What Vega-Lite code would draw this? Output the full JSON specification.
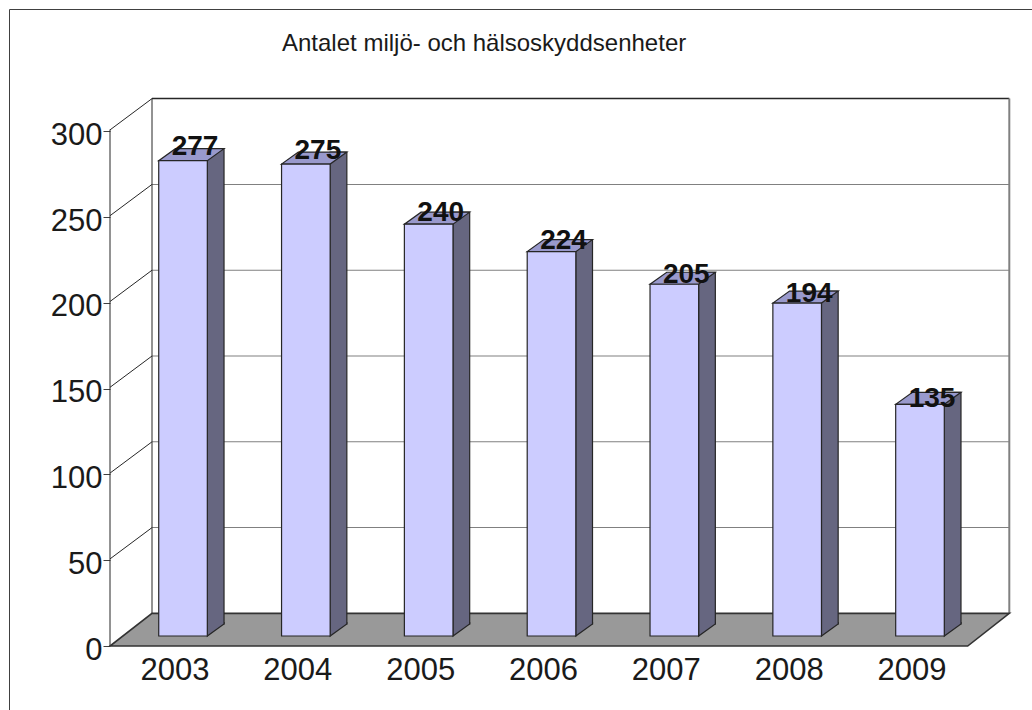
{
  "$schema": "https://vega.github.io/schema/vega-lite/v6.json",
  "width": 1023,
  "height": 701,
  "autosize": {"type": "none"},
  "padding": {"left": 9, "top": 9, "right": 0, "bottom": 0},
  "background": "white",
  "config": {
    "view": {"stroke": "#404040", "strokeWidth": 1},
    "font": "Liberation Sans"
  },
  "title": {
    "text": "Antalet miljö- och hälsoskyddsenheter",
    "anchor": "start",
    "frame": "group",
    "dx": 273,
    "dy": 66.4,
    "offset": 0,
    "baseline": "alphabetic",
    "fontSize": 24,
    "fontWeight": "normal",
    "font": "Liberation Sans",
    "color": "#1a1a1a"
  },
  "datasets": {
    "bars": [
      {"year": "2003", "value": 277},
      {"year": "2004", "value": 275},
      {"year": "2005", "value": 240},
      {"year": "2006", "value": 224},
      {"year": "2007", "value": 205},
      {"year": "2008", "value": 194},
      {"year": "2009", "value": 135}
    ],
    "levels": [
      {"v": 0}, {"v": 50}, {"v": 100}, {"v": 150}, {"v": 200}, {"v": 250}, {"v": 300}
    ]
  },
  "resolve": {"scale": {"y": "independent"}},
  "layer": [
    {
      "layer": [
        {
          "data": {"name": "levels"},
          "transform": [{"filter": "datum.v > 0 && datum.v < 300"}],
          "mark": {"type": "tick", "size": 857.3, "thickness": 1, "color": "#808080", "opacity": 1, "xOffset": 60.15, "yOffset": -22.6},
          "encoding": {
            "y": {
              "field": "v", "type": "quantitative",
              "scale": {"domain": [-43.12, 365.39], "nice": false, "zero": false},
              "axis": {"orient": "left", "offset": -101, "values": [0, 50, 100, 150, 200, 250, 300], "domain": false, "grid": false, "ticks": true, "tickSize": 7, "tickColor": "#404040", "tickWidth": 1, "tickOffset": 10, "labelOffset": 4, "labelPadding": 1, "labelFontSize": 31, "labelFont": "Liberation Sans", "labelColor": "#1a1a1a", "labelOverlap": false, "labelBound": false, "labelFlush": false, "title": null}
            }
          }
        },
        {
          "data": {"name": "levels"},
          "transform": [{"filter": "datum.v == 300"}],
          "mark": {"type": "tick", "size": 857.3, "thickness": 1.5, "color": "#262626", "opacity": 1, "xOffset": 60.15, "yOffset": -22.6},
          "encoding": {
            "y": {"field": "v", "type": "quantitative", "scale": {"domain": [-43.12, 365.39], "nice": false, "zero": false}}
          }
        },
        {
          "data": {"name": "levels"},
          "transform": [{"filter": "datum.v == 0"}],
          "mark": {"type": "rule", "color": "#262626", "strokeWidth": 1, "xOffset": -368.5, "yOffset": -22.6, "y2Offset": -22.6},
          "encoding": {
            "y": {"datum": 0, "type": "quantitative", "scale": {"domain": [-43.12, 365.39], "nice": false, "zero": false}},
            "y2": {"datum": 300}
          }
        },
        {
          "data": {"name": "levels"},
          "transform": [{"filter": "datum.v == 0"}],
          "mark": {"type": "rule", "color": "#808080", "strokeWidth": 2, "xOffset": 488.8, "yOffset": -22.6, "y2Offset": -22.6},
          "encoding": {
            "y": {"datum": 0, "type": "quantitative", "scale": {"domain": [-43.12, 365.39], "nice": false, "zero": false}},
            "y2": {"datum": 300}
          }
        },
        {
          "data": {"name": "levels"},
          "transform": [{"filter": "datum.v == 0"}],
          "mark": {"type": "rule", "color": "#262626", "strokeWidth": 1, "xOffset": -410.5, "yOffset": 10, "y2Offset": 8.3},
          "encoding": {
            "y": {"datum": 0, "type": "quantitative", "scale": {"domain": [-43.12, 365.39], "nice": false, "zero": false}},
            "y2": {"datum": 300}
          }
        },
        {
          "data": {"name": "levels"},
          "transform": [{"filter": "datum.v > 0"}],
          "mark": {"type": "point", "shape": "M-410.5,8.7 L-368.5,-22.6", "size": 4, "filled": false, "stroke": "#262626", "strokeWidth": 1, "opacity": 1},
          "encoding": {
            "y": {"field": "v", "type": "quantitative", "scale": {"domain": [-43.12, 365.39], "nice": false, "zero": false}}
          }
        },
        {
          "data": {"name": "levels"},
          "transform": [{"filter": "datum.v == 0"}],
          "mark": {"type": "point", "shape": "M-410.5,10 L447.2,10 L488.8,-22.6 L-368.5,-22.6 Z", "size": 4, "filled": true, "fill": "#999999", "stroke": "#333333", "strokeWidth": 1.6, "opacity": 1},
          "encoding": {
            "y": {"field": "v", "type": "quantitative", "scale": {"domain": [-43.12, 365.39], "nice": false, "zero": false}}
          }
        },
        {
          "data": {"name": "bars"},
          "mark": {"type": "bar", "width": 16.7, "xOffset": 32.65, "yOffset": -12, "y2Offset": -12, "fill": "#666680", "stroke": "#262626", "strokeWidth": 1.2, "opacity": 1},
          "encoding": {
            "x": {
              "field": "year", "type": "nominal",
              "scale": {"type": "band", "paddingInner": 0.6043, "paddingOuter": 0.9665, "align": 0.6306, "round": false},
              "axis": {"orient": "bottom", "offset": -40, "domain": false, "ticks": false, "tickSize": 0, "grid": false, "labelPadding": 0, "labelBaseline": "middle", "labelAngle": 0, "labelOffset": -8, "labelFontSize": 31, "labelFont": "Liberation Sans", "labelColor": "#1a1a1a", "title": null}
            },
            "y": {"field": "value", "type": "quantitative", "scale": {"domain": [-43.12, 365.39], "nice": false, "zero": false}}
          }
        },
        {
          "data": {"name": "bars"},
          "mark": {"type": "point", "shape": "M0,-14 L0,0 L16.7,-12 L16.7,-14", "size": 4, "filled": true, "fill": "#666680", "stroke": "#262626", "strokeWidth": 1.2, "opacity": 1},
          "encoding": {
            "x": {"field": "year", "type": "nominal", "bandPosition": 1, "scale": {"type": "band", "paddingInner": 0.6043, "paddingOuter": 0.9665, "align": 0.6306, "round": false}},
            "y": {"datum": 0, "type": "quantitative", "scale": {"domain": [-43.12, 365.39], "nice": false, "zero": false}}
          }
        },
        {
          "data": {"name": "bars"},
          "mark": {"type": "point", "shape": "M0,0 L48.6,0 L65.3,-12 L16.7,-12 Z", "size": 4, "filled": true, "fill": "#9999cc", "stroke": "#262626", "strokeWidth": 1.2, "opacity": 1},
          "encoding": {
            "x": {"field": "year", "type": "nominal", "bandPosition": 0, "scale": {"type": "band", "paddingInner": 0.6043, "paddingOuter": 0.9665, "align": 0.6306, "round": false}},
            "y": {"field": "value", "type": "quantitative", "scale": {"domain": [-43.12, 365.39], "nice": false, "zero": false}}
          }
        },
        {
          "data": {"name": "bars"},
          "mark": {"type": "bar", "fill": "#ccccff", "stroke": "#262626", "strokeWidth": 1.2, "opacity": 1},
          "encoding": {
            "x": {"field": "year", "type": "nominal", "scale": {"type": "band", "paddingInner": 0.6043, "paddingOuter": 0.9665, "align": 0.6306, "round": false}},
            "y": {"field": "value", "type": "quantitative", "scale": {"domain": [-43.12, 365.39], "nice": false, "zero": false}}
          }
        }
      ]
    },
    {
      "data": {"name": "bars"},
      "mark": {"type": "text", "align": "center", "baseline": "alphabetic", "dx": 12, "fontSize": 28, "fontWeight": "bold", "font": "Liberation Sans", "color": "#111111"},
      "encoding": {
        "x": {"field": "year", "type": "nominal", "scale": {"type": "band", "paddingInner": 0.6043, "paddingOuter": 0.9665, "align": 0.6306, "round": false}},
        "y": {"field": "value", "type": "quantitative", "scale": {"domain": [-36.04, 359.34], "nice": false, "zero": false}, "axis": null},
        "text": {"field": "value", "type": "quantitative"}
      }
    }
  ]
}
